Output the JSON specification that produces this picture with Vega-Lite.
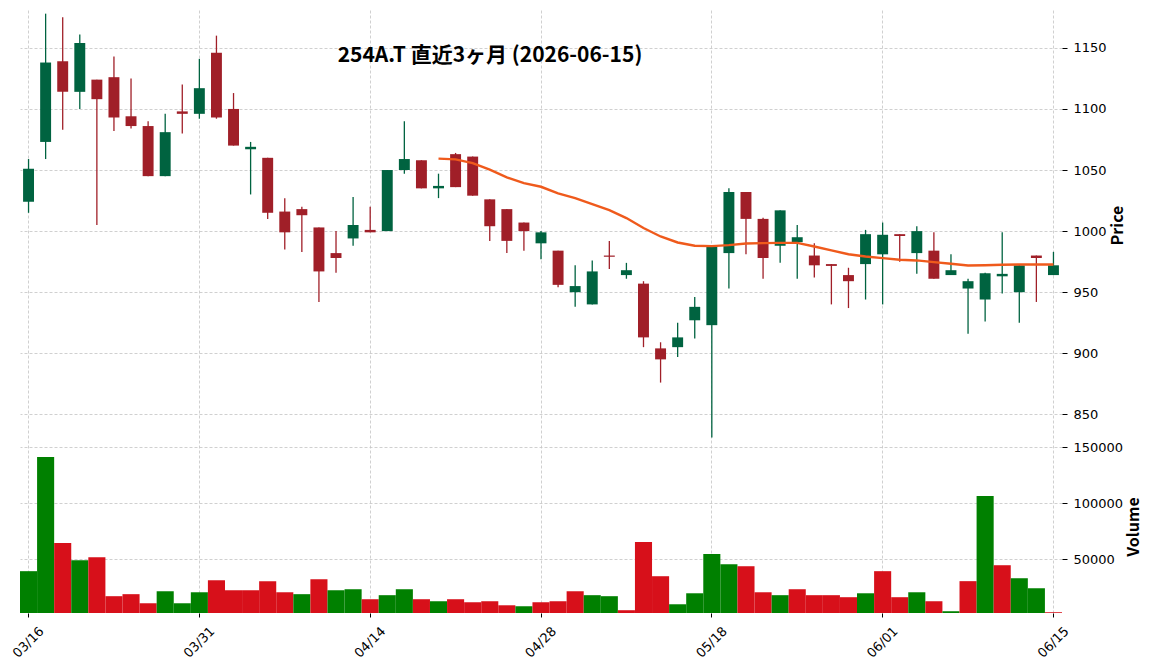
{
  "$schema": "https://vega.github.io/schema/vega-lite/v6.json",
  "background": "white",
  "padding": {"left": 10, "top": 10, "right": 5, "bottom": 5},
  "spacing": 0,
  "config": {
    "font": "DejaVu Sans",
    "view": {"stroke": null},
    "axis": {"labelFont": "DejaVu Sans", "labelFontSize": 13, "labelColor": "#000", "gridColor": "#c4c4c4", "gridDash": [3, 2], "gridWidth": 0.8, "tickColor": "#000", "domain": false, "titleFont": "Noto Sans CJK JP", "titleColor": "#000"}
  },
  "data": {"values": [
    {"d": "03/16", "o": 1024, "h": 1059, "l": 1015, "c": 1051, "v": 39600, "vc": "up", "ma": null},
    {"d": "03/17", "o": 1073, "h": 1178, "l": 1059, "c": 1138, "v": 141400, "vc": "up", "ma": null},
    {"d": "03/18", "o": 1139, "h": 1175, "l": 1083, "c": 1114, "v": 64600, "vc": "down", "ma": null},
    {"d": "03/19", "o": 1114, "h": 1161, "l": 1100, "c": 1154, "v": 49400, "vc": "up", "ma": null},
    {"d": "03/23", "o": 1124, "h": 1124, "l": 1005, "c": 1108, "v": 52100, "vc": "down", "ma": null},
    {"d": "03/24", "o": 1126, "h": 1143, "l": 1082, "c": 1093, "v": 17300, "vc": "down", "ma": null},
    {"d": "03/25", "o": 1094, "h": 1125, "l": 1084, "c": 1086, "v": 19100, "vc": "down", "ma": null},
    {"d": "03/26", "o": 1086, "h": 1090, "l": 1045, "c": 1045, "v": 11000, "vc": "down", "ma": null},
    {"d": "03/27", "o": 1045, "h": 1096, "l": 1045, "c": 1081, "v": 21700, "vc": "up", "ma": null},
    {"d": "03/30", "o": 1098, "h": 1120, "l": 1080, "c": 1096, "v": 11000, "vc": "up", "ma": null},
    {"d": "03/31", "o": 1096, "h": 1141, "l": 1092, "c": 1117, "v": 20800, "vc": "up", "ma": null},
    {"d": "04/01", "o": 1146, "h": 1160, "l": 1092, "c": 1093, "v": 31500, "vc": "down", "ma": null},
    {"d": "04/02", "o": 1100, "h": 1113, "l": 1070, "c": 1070, "v": 22600, "vc": "down", "ma": null},
    {"d": "04/03", "o": 1067, "h": 1073, "l": 1030, "c": 1069, "v": 22600, "vc": "down", "ma": null},
    {"d": "04/06", "o": 1060, "h": 1060, "l": 1010, "c": 1015, "v": 30700, "vc": "down", "ma": null},
    {"d": "04/07", "o": 1016, "h": 1027, "l": 985, "c": 999, "v": 20800, "vc": "down", "ma": null},
    {"d": "04/08", "o": 1018, "h": 1020, "l": 983, "c": 1013, "v": 19100, "vc": "up", "ma": null},
    {"d": "04/09", "o": 1003, "h": 1003, "l": 942, "c": 967, "v": 32400, "vc": "down", "ma": null},
    {"d": "04/10", "o": 982, "h": 1000, "l": 966, "c": 978, "v": 22600, "vc": "up", "ma": null},
    {"d": "04/13", "o": 994, "h": 1028, "l": 988, "c": 1005, "v": 23500, "vc": "up", "ma": null},
    {"d": "04/14", "o": 1001, "h": 1020, "l": 999, "c": 999, "v": 14600, "vc": "down", "ma": null},
    {"d": "04/15", "o": 1000, "h": 1050, "l": 1000, "c": 1050, "v": 18200, "vc": "up", "ma": null},
    {"d": "04/16", "o": 1050, "h": 1090, "l": 1047, "c": 1059, "v": 23500, "vc": "up", "ma": null},
    {"d": "04/17", "o": 1058, "h": 1058, "l": 1035, "c": 1035, "v": 14600, "vc": "down", "ma": null},
    {"d": "04/20", "o": 1035, "h": 1047, "l": 1027, "c": 1037, "v": 12800, "vc": "up", "ma": 1059.3},
    {"d": "04/21", "o": 1063, "h": 1064, "l": 1036, "c": 1036, "v": 14600, "vc": "down", "ma": 1058.7},
    {"d": "04/22", "o": 1061, "h": 1061, "l": 1029, "c": 1029, "v": 11900, "vc": "down", "ma": 1055.7},
    {"d": "04/23", "o": 1026, "h": 1026, "l": 992, "c": 1004, "v": 12800, "vc": "down", "ma": 1050.3},
    {"d": "04/24", "o": 1018, "h": 1018, "l": 982, "c": 992, "v": 9200, "vc": "down", "ma": 1044.0},
    {"d": "04/27", "o": 1007, "h": 1007, "l": 984, "c": 1000, "v": 8300, "vc": "up", "ma": 1039.3},
    {"d": "04/28", "o": 990, "h": 1000, "l": 977, "c": 999, "v": 11900, "vc": "down", "ma": 1036.3},
    {"d": "04/30", "o": 984, "h": 984, "l": 954, "c": 956, "v": 12800, "vc": "down", "ma": 1030.9},
    {"d": "05/01", "o": 950, "h": 972, "l": 938, "c": 955, "v": 21700, "vc": "down", "ma": 1027.0},
    {"d": "05/07", "o": 940, "h": 976, "l": 940, "c": 967, "v": 18200, "vc": "up", "ma": 1022.1},
    {"d": "05/08", "o": 980, "h": 992, "l": 969, "c": 979, "v": 17300, "vc": "up", "ma": 1017.2},
    {"d": "05/11", "o": 964, "h": 974, "l": 961, "c": 968, "v": 4800, "vc": "down", "ma": 1010.7},
    {"d": "05/12", "o": 957, "h": 959, "l": 905, "c": 913, "v": 65500, "vc": "down", "ma": 1002.5},
    {"d": "05/13", "o": 904, "h": 909, "l": 876, "c": 895, "v": 35100, "vc": "down", "ma": 995.6},
    {"d": "05/14", "o": 905, "h": 925, "l": 897, "c": 913, "v": 10100, "vc": "up", "ma": 990.7},
    {"d": "05/15", "o": 927, "h": 946, "l": 912, "c": 938, "v": 19900, "vc": "up", "ma": 988.0},
    {"d": "05/18", "o": 923, "h": 988, "l": 831, "c": 988, "v": 54800, "vc": "up", "ma": 987.7},
    {"d": "05/19", "o": 982, "h": 1035, "l": 953, "c": 1032, "v": 45800, "vc": "up", "ma": 988.5},
    {"d": "05/20", "o": 1032, "h": 1032, "l": 981, "c": 1010, "v": 44000, "vc": "down", "ma": 989.9},
    {"d": "05/21", "o": 1010, "h": 1011, "l": 961, "c": 978, "v": 20800, "vc": "down", "ma": 990.2},
    {"d": "05/22", "o": 988, "h": 1017, "l": 974, "c": 1017, "v": 18200, "vc": "up", "ma": 990.4},
    {"d": "05/25", "o": 991, "h": 1005, "l": 961, "c": 995, "v": 23500, "vc": "down", "ma": 990.4},
    {"d": "05/26", "o": 980, "h": 990, "l": 962, "c": 972, "v": 18200, "vc": "down", "ma": 987.4},
    {"d": "05/27", "o": 973, "h": 973, "l": 940, "c": 971.5, "v": 18200, "vc": "down", "ma": 984.2},
    {"d": "05/28", "o": 964, "h": 970, "l": 937, "c": 959, "v": 16400, "vc": "down", "ma": 981.1},
    {"d": "05/29", "o": 973, "h": 1001, "l": 944, "c": 997.5, "v": 19900, "vc": "up", "ma": 979.2},
    {"d": "06/01", "o": 981, "h": 1007, "l": 940, "c": 997, "v": 39600, "vc": "down", "ma": 977.9},
    {"d": "06/02", "o": 997.5, "h": 997.5, "l": 975, "c": 996, "v": 16400, "vc": "down", "ma": 976.5},
    {"d": "06/03", "o": 982, "h": 1004, "l": 965, "c": 1000, "v": 20800, "vc": "up", "ma": 976.0},
    {"d": "06/04", "o": 984, "h": 999, "l": 961, "c": 961, "v": 12800, "vc": "down", "ma": 974.6},
    {"d": "06/05", "o": 964, "h": 981, "l": 964, "c": 968, "v": 3900, "vc": "up", "ma": 973.3},
    {"d": "06/08", "o": 953, "h": 961, "l": 916, "c": 959, "v": 30700, "vc": "down", "ma": 971.9},
    {"d": "06/09", "o": 944, "h": 966, "l": 926, "c": 965.5, "v": 106500, "vc": "up", "ma": 972.1},
    {"d": "06/10", "o": 963, "h": 999, "l": 949, "c": 965, "v": 44900, "vc": "down", "ma": 972.4},
    {"d": "06/11", "o": 950, "h": 972, "l": 925, "c": 972, "v": 33300, "vc": "up", "ma": 972.7},
    {"d": "06/12", "o": 980, "h": 980, "l": 942, "c": 978, "v": 24400, "vc": "up", "ma": 972.7},
    {"d": "06/15", "o": 964, "h": 983, "l": 964, "c": 972, "v": 3000, "vc": "down", "ma": 972.7}
  ]},
  "vconcat": [
    {
      "width": 1042,
      "height": 430,
      "title": {"text": "254A.T 直近3ヶ月 (2026-06-15)", "fontSize": 21, "fontWeight": "bold", "font": "Noto Sans CJK JP", "anchor": "middle", "dx": -51, "offset": -56, "color": "#000"},
      "encoding": {
        "x": {"field": "d", "type": "ordinal", "sort": null, "scale": {"paddingInner": 0, "paddingOuter": 0},
          "axis": {"values": ["03/16", "03/31", "04/14", "04/28", "05/18", "06/01", "06/15"], "labels": false, "ticks": false, "title": null, "grid": true, "bandPosition": 0.5}}
      },
      "layer": [
        {
          "mark": {"type": "rule", "strokeWidth": 1.3},
          "encoding": {
            "y": {"field": "l", "type": "quantitative", "title": "Price", "scale": {"domain": [829, 1181], "zero": false, "nice": false},
              "axis": {"orient": "right", "values": [850, 900, 950, 1000, 1050, 1100, 1150], "format": "d", "grid": true, "tickSize": 5, "labelPadding": 6, "titleAngle": 270, "titleBaseline": "top", "titleFontSize": 16, "titleFontWeight": "bold", "titlePadding": 3}},
            "y2": {"field": "h"},
            "color": {"condition": {"test": "datum.c >= datum.o", "value": "#006340"}, "value": "#a01f28"}
          }
        },
        {
          "mark": {"type": "bar", "width": {"band": 0.64}},
          "encoding": {
            "y": {"field": "o", "type": "quantitative", "title": "Price"},
            "y2": {"field": "c"},
            "color": {"condition": {"test": "datum.c >= datum.o", "value": "#006340"}, "value": "#a01f28"}
          }
        },
        {
          "mark": {"type": "line", "color": "#ef5a1c", "strokeWidth": 2.4},
          "encoding": {
            "y": {"field": "ma", "type": "quantitative", "title": "Price"}
          }
        }
      ]
    },
    {
      "width": 1042,
      "height": 173,
      "mark": {"type": "bar", "width": {"band": 1}, "clip": true},
      "encoding": {
        "x": {"field": "d", "type": "ordinal", "sort": null, "scale": {"paddingInner": 0, "paddingOuter": 0},
          "axis": {"values": ["03/16", "03/31", "04/14", "04/28", "05/18", "06/01", "06/15"], "title": null, "grid": true, "bandPosition": 0.5, "labelAngle": -45, "labelAlign": "center", "labelBaseline": "middle", "labelPadding": 25, "tickSize": 4, "labelFontSize": 13}},
        "y": {"field": "v", "type": "quantitative", "title": "Volume", "scale": {"domain": [2320, 156500], "zero": false, "nice": false},
          "axis": {"orient": "right", "values": [50000, 100000, 150000], "format": "d", "grid": true, "tickSize": 5, "labelPadding": 6, "titleAngle": 270, "titleBaseline": "top", "titleFontSize": 16, "titleFontWeight": "bold", "titlePadding": 3}},
        "color": {"field": "vc", "type": "nominal", "scale": {"domain": ["up", "down"], "range": ["#008000", "#d7101a"]}, "legend": null}
      }
    }
  ]
}
